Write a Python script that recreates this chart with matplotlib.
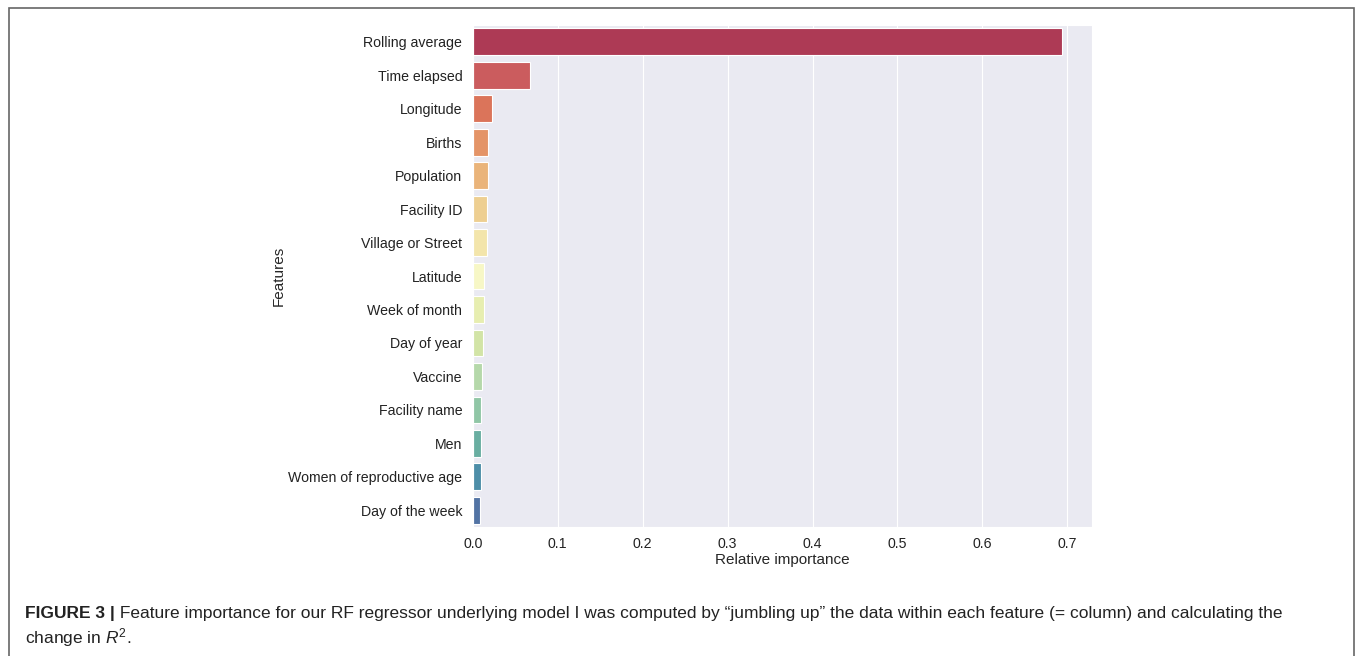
import numpy as np
import pandas as pd
import matplotlib
matplotlib.use("Agg")
import matplotlib.pyplot as plt
import seaborn as sns
from matplotlib.patches import Rectangle

features = ["Rolling average", "Time elapsed", "Longitude", "Births", "Population",
            "Facility ID", "Village or Street", "Latitude", "Week of month",
            "Day of year", "Vaccine", "Facility name", "Men",
            "Women of reproductive age", "Day of the week"]
importance = [0.694, 0.0675, 0.0224, 0.018, 0.018, 0.0172, 0.0170, 0.0137,
              0.0133, 0.0125, 0.011, 0.0099, 0.0098, 0.0097, 0.009]

caption_bold = "FIGURE 3 |"
caption_rest = (" Feature importance for our RF regressor underlying model I was computed by "
                "\u201cjumbling up\u201d the data within each feature (= column) and calculating the")
caption_line2 = "change in $R^2$."

sns.set_style("darkgrid")
plt.rcParams['font.family'] = ['Liberation Sans', 'DejaVu Sans']
plt.rcParams['mathtext.fontset'] = 'custom'
plt.rcParams['mathtext.rm'] = 'Liberation Sans'
plt.rcParams['mathtext.it'] = 'Liberation Sans:italic'

df = pd.DataFrame({"feature": features, "importance": importance})

W, H = 1355, 656
fig = plt.figure(figsize=(W / 100, H / 100), dpi=100)
ax = fig.add_axes([0.3489, 0.1966, 0.4568, 0.7653])
sns.barplot(data=df, x="importance", y="feature", hue="feature", palette="Spectral",
            legend=False, ax=ax, edgecolor="white", linewidth=0.8)
ax.set_xlabel("Relative importance", fontsize=11, labelpad=1)
ax.set_ylabel("Features", fontsize=11, labelpad=2)
ax.set_xticks(np.arange(0, 0.71, 0.1))
ax.tick_params(axis="both", labelsize=10.2, colors="#222222")
ax.tick_params(axis="y", pad=4)
ax.tick_params(axis="x", pad=4)
ax.grid(axis="y", visible=False)

# outer frame and caption
fig.patches.append(Rectangle((9 / W, -0.01), (1354 - 9) / W, 1 - 8.5 / H + 0.01,
                             transform=fig.transFigure, fill=False,
                             edgecolor="#666666", linewidth=1.2))
t = fig.text(25 / W, 1 - 618 / H, caption_bold, fontsize=12.5, fontweight="bold",
             color="#222222")
fig.canvas.draw()
bb = t.get_window_extent()
fig.text(bb.x1 / W, 1 - 618 / H, caption_rest, fontsize=12.5, color="#222222")
fig.text(25 / W, 1 - 643 / H, caption_line2, fontsize=12.5, color="#222222")

fig.savefig("out.png", dpi=100)
